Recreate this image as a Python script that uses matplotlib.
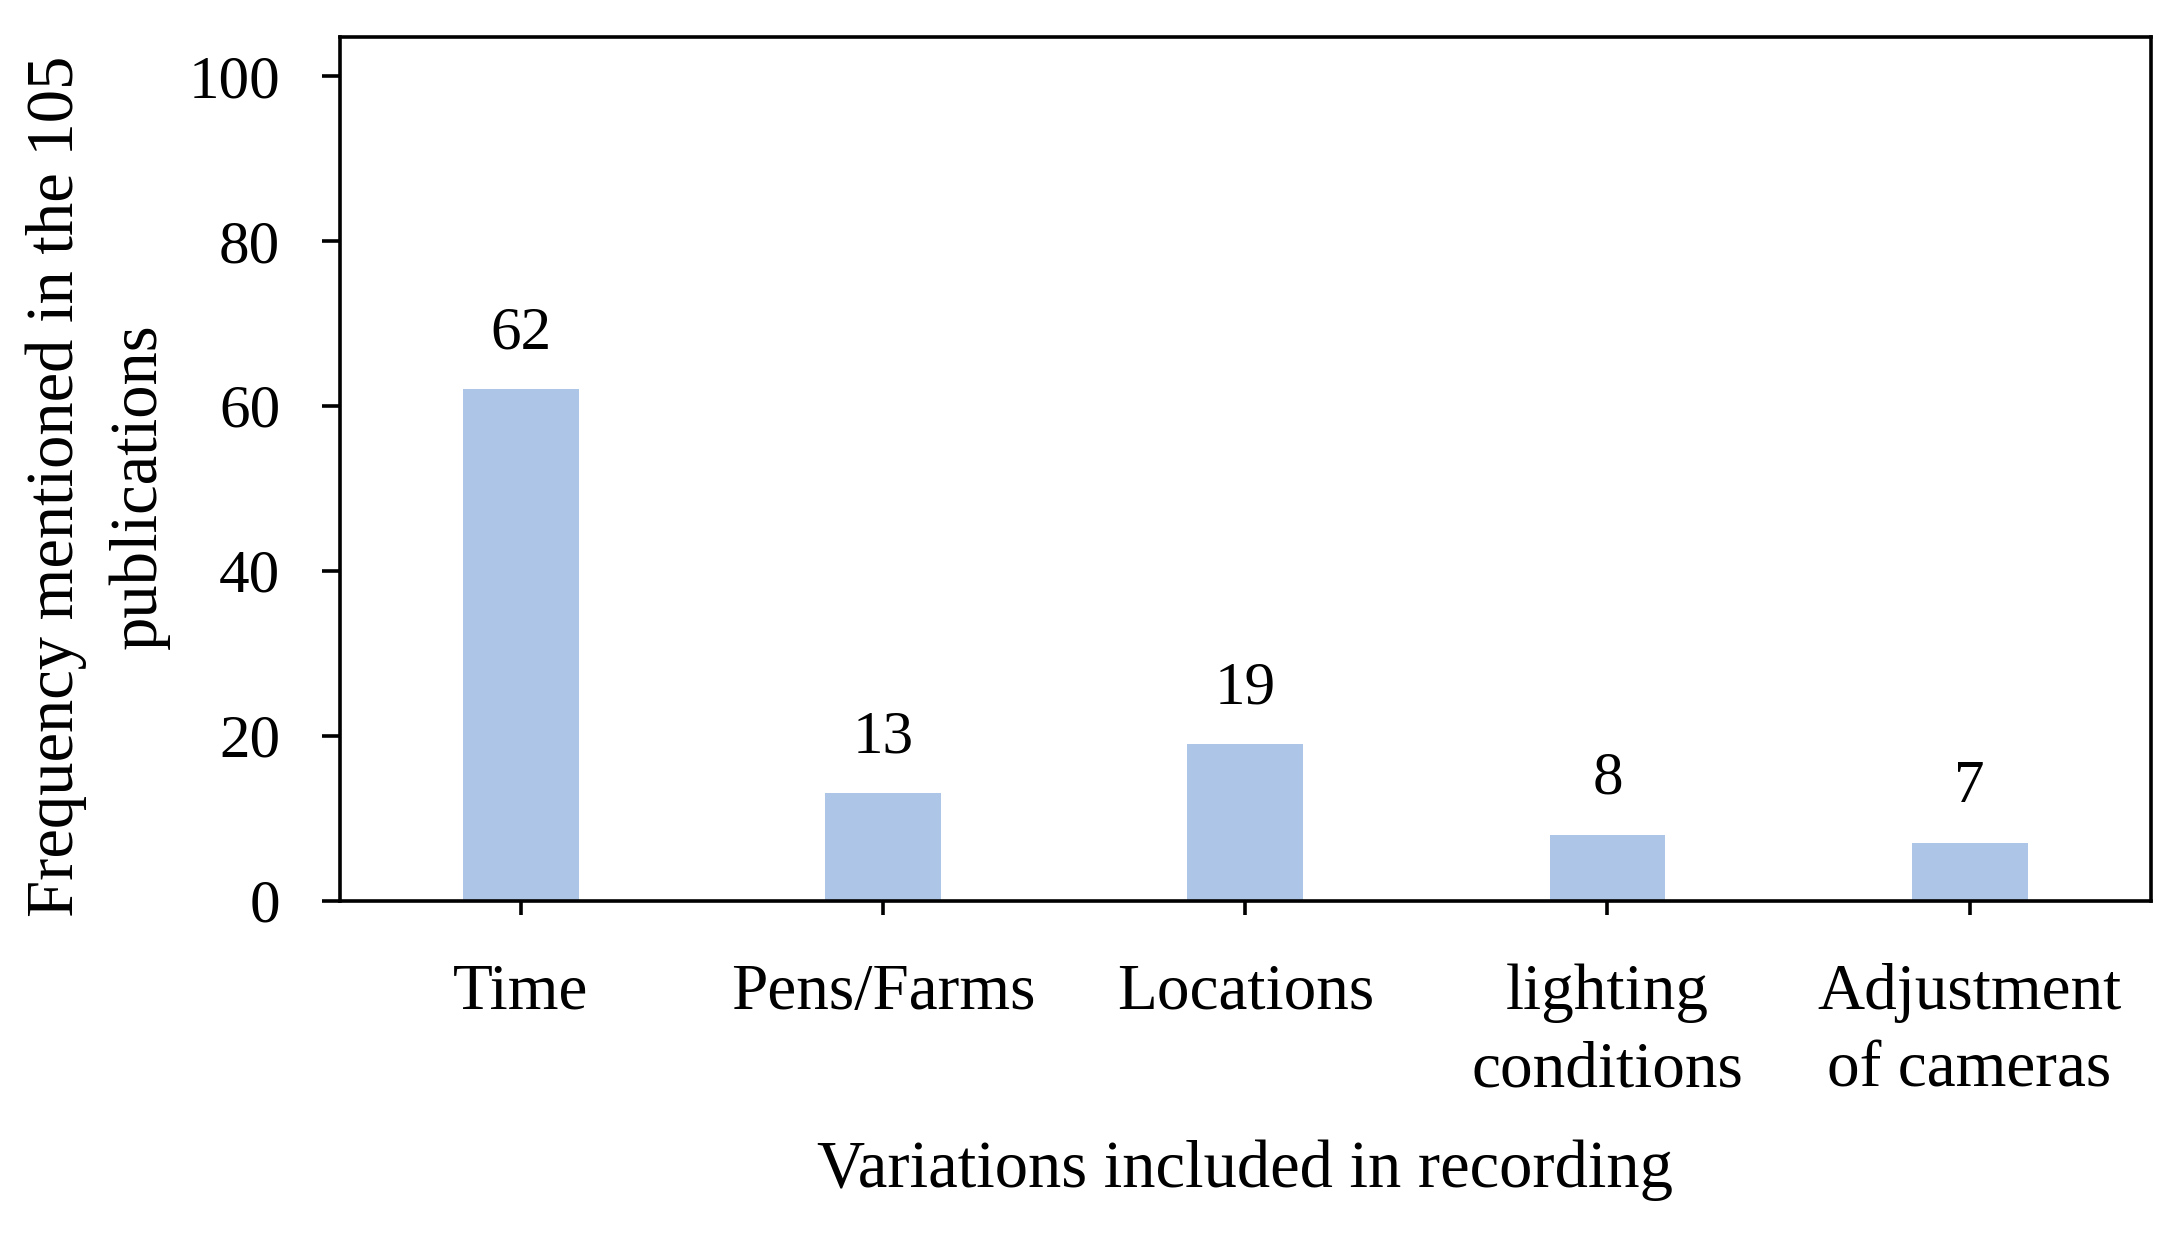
import matplotlib
matplotlib.use("Agg")
import matplotlib.pyplot as plt

categories = ["Time", "Pens/Farms", "Locations", "lighting\nconditions", "Adjustment\nof cameras"]
counts = [62, 13, 19, 8, 7]
y_ticks = [0, 20, 40, 60, 80, 100]

plt.rcParams['font.family'] = ['Liberation Serif', 'DejaVu Serif']
FS = 44

fig = plt.figure(figsize=(21.79, 12.37), dpi=100)
ax = fig.add_axes([0.156, 0.272, 0.831, 0.698])

x = range(len(categories))
bars = ax.bar(x, counts, width=0.32, color="#ADC6E8")
for b, v in zip(bars, counts):
    ax.annotate(str(v), (b.get_x() + b.get_width() / 2, v), xytext=(0, 20),
                textcoords="offset points", ha="center", va="bottom", fontsize=FS)

ax.set_xlim(-0.5, len(categories) - 0.5)
ax.set_ylim(0, 104.7)
ax.set_yticks(y_ticks)
ax.set_xticks(list(x))
ax.set_xticklabels(categories, linespacing=1.4, fontsize=47)

for s in ax.spines.values():
    s.set_linewidth(2.6)
    s.set_color("black")

ax.tick_params(axis="y", length=13, width=2.6, pad=30, labelsize=FS)
ax.tick_params(axis="x", length=10, width=2.6, pad=35)

ax.set_xlabel("Variations included in recording", fontsize=48, labelpad=28)
ax.set_ylabel("Frequency mentioned in the 105\npublications", fontsize=48,
              linespacing=1.45)
ax.yaxis.set_label_coords(-0.094, 0.48)

fig.savefig("out.png", dpi=100)
